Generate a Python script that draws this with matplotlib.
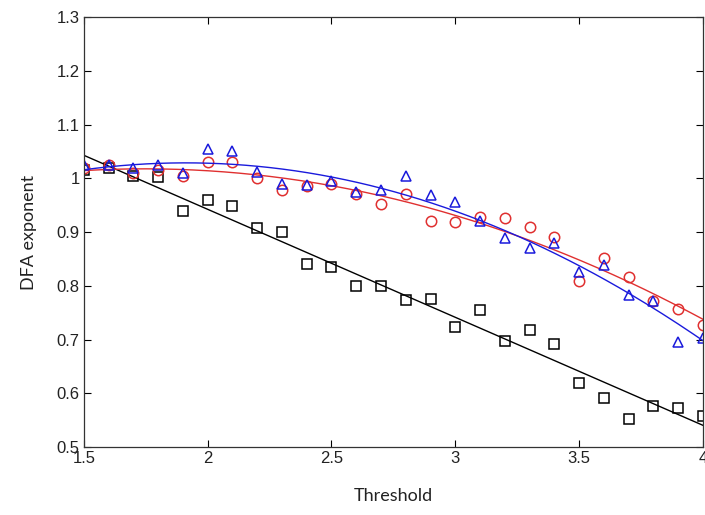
import numpy as np
import matplotlib
matplotlib.use("Agg")
import matplotlib.pyplot as plt

# Threshold values
threshold = [1.5, 1.6, 1.7, 1.8, 1.9, 2.0, 2.1, 2.2, 2.3, 2.4, 2.5, 2.6, 2.7,
             2.8, 2.9, 3.0, 3.1, 3.2, 3.3, 3.4, 3.5, 3.6, 3.7, 3.8, 3.9, 4.0]

# DFA exponents for the three series
dfa_square = [1.015, 1.020, 1.005, 1.003, 0.940, 0.960, 0.948, 0.907, 0.900,
              0.840, 0.835, 0.800, 0.800, 0.773, 0.776, 0.723, 0.755, 0.698,
              0.718, 0.692, 0.620, 0.592, 0.553, 0.577, 0.573, 0.557]
dfa_triangle = [1.025, 1.025, 1.020, 1.025, 1.010, 1.055, 1.050, 1.012, 0.990,
                0.988, 0.995, 0.975, 0.978, 1.005, 0.968, 0.955, 0.920, 0.888,
                0.870, 0.880, 0.825, 0.838, 0.783, 0.772, 0.695, 0.703]
dfa_circle = [1.020, 1.025, 1.010, 1.015, 1.005, 1.030, 1.030, 1.000, 0.978,
              0.985, 0.990, 0.970, 0.953, 0.970, 0.920, 0.918, 0.928, 0.926,
              0.910, 0.890, 0.808, 0.852, 0.817, 0.772, 0.757, 0.727]

xticks = [1.5, 2, 2.5, 3, 3.5, 4]
yticks = [0.5, 0.6, 0.7, 0.8, 0.9, 1.0, 1.1, 1.2, 1.3]

fig = plt.figure(figsize=(7.05, 5.15), dpi=100)
ax = fig.add_axes([0.119, 0.132, 0.878, 0.835])

x = np.array(threshold)
xf = np.linspace(1.5, 4.0, 200)

series = [
    (dfa_square, "s", "black", 1),
    (dfa_circle, "o", "#e03030", 2),
    (dfa_triangle, "^", "#1a1adc", 2),
]
for y, marker, color, deg in series:
    coef = np.polyfit(x, np.array(y), deg)
    ax.plot(xf, np.polyval(coef, xf), color=color, lw=1.0)
    ax.plot(x, y, linestyle="none", marker=marker, markersize=7.5,
            markerfacecolor="none", markeredgecolor=color, markeredgewidth=1.1)

ax.set_xlim(1.5, 4.0)
ax.set_ylim(0.5, 1.3)
ax.set_xticks(xticks)
ax.set_xticklabels(["1.5", "2", "2.5", "3", "3.5", "4"])
ax.set_yticks(yticks)
ax.set_yticklabels(["0.5", "0.6", "0.7", "0.8", "0.9", "1", "1.1", "1.2", "1.3"])
ax.tick_params(direction="in", length=5, width=0.8, top=True, right=True,
               labelsize=12, pad=3)
for lab in ax.get_xticklabels() + ax.get_yticklabels():
    lab.set_family("Liberation Sans")
    lab.set_color("#222222")
for s in ax.spines.values():
    s.set_linewidth(0.9)
    s.set_color("#333333")

ax.set_xlabel("Threshold", fontsize=13, family="Lato", color="#222222", labelpad=16)
ax.set_ylabel("DFA exponent", fontsize=13, family="Lato", color="#222222", labelpad=14)

fig.savefig("out.png", dpi=100)
